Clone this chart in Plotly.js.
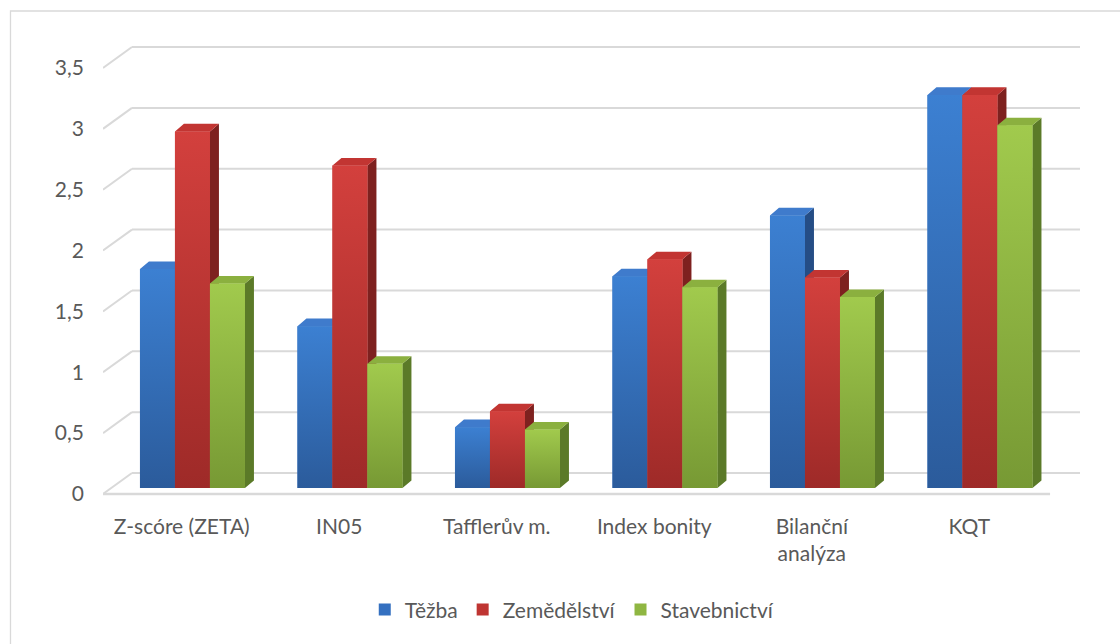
<!DOCTYPE html>
<html>
<head>
<meta charset="utf-8">
<script src="https://cdn.plot.ly/plotly-3.0.1.min.js"></script>
<style>
  html, body { margin: 0; padding: 0; background: #ffffff; }
  #chart { width: 1120px; height: 644px; }
</style>
</head>
<body>
<div id="chart"></div>
<script>
// Category labels (x axis) and legend names
const categories = ['Z-scóre (ZETA)', 'IN05', 'Tafflerův m.', 'Index bonity', 'Bilanční<br>analýza', 'KQT'];
const seriesNames = ['Těžba', 'Zemědělství', 'Stavebnictví'];

// Values per series
const tezba        = [1.80, 1.33, 0.50, 1.74, 2.24, 3.23];
const zemedelstvi  = [2.93, 2.65, 0.63, 1.88, 1.73, 3.23];
const stavebnictvi = [1.68, 1.02, 0.48, 1.65, 1.57, 2.98];

// Value axis ticks
const yTickVals = [0, 0.5, 1, 1.5, 2, 2.5, 3, 3.5];
const yTickText = ['0', '0,5', '1', '1,5', '2', '2,5', '3', '3,5'];

// ---- styling / pseudo-3D geometry (axis units) ----
const FONT = { family: 'Lato, "Open Sans", sans-serif', size: 21, color: '#595959' };
const X_RANGE = [-0.5, 5.703];
const Y_RANGE = [-0.0986, 3.681];
const BAR_W = 0.2222;        // width of one column
const GROUP_SHIFT = 0.068;   // columns sit slightly behind the front edge
const DEPTH_X = 0.057;       // column depth, horizontal part
const DEPTH_Y = 0.062;       // column depth, vertical part
const FRONT_SHIFT = 0.049;   // front edge of the floor below the column plane
const BACK_SHIFT = 0.123;    // back wall above the column plane
const BACK_LEFT = -0.316;    // left end of the back wall
const FRONT_RIGHT = 5.513;   // right end of the floor's front edge
const GRID = '#d9d9d9';

const palette = [
  { bottom: '#2b5b9b', top: '#3c80d2', side: '#254d85', cap: '#3f7bcc', flat: '#3470c0' },
  { bottom: '#9e2a28', top: '#d3403d', side: '#7e211f', cap: '#c23532', flat: '#bf3532' },
  { bottom: '#779934', top: '#a1ca4d', side: '#5b7a28', cap: '#8bb03f', flat: '#8fb642' }
];

const seriesValues = [tezba, zemedelstvi, stavebnictvi];
const axisPairs = [['x', 'y'], ['x2', 'y2'], ['x3', 'y3']];

const traces = [];
const extra = [];

seriesValues.forEach((vals, s) => {
  const [xa, ya] = axisPairs[s];
  const pal = palette[s];
  const offset = GROUP_SHIFT - 1.5 * BAR_W + s * BAR_W;

  // Flat column faces (also provide the legend entry)
  traces.push({
    type: 'bar',
    name: seriesNames[s],
    x: categories.map((_, i) => i),
    y: vals,
    width: BAR_W,
    offset: offset,
    marker: { color: pal.flat, line: { width: 0 } },
    hoverinfo: 'skip',
    xaxis: xa, yaxis: ya
  });

  // Side faces and top caps
  const sx = [], sy = [], cx = [], cy = [];
  vals.forEach((v, i) => {
    const xl = i + offset, xr = xl + BAR_W;
    sx.push(xr, xr + DEPTH_X, xr + DEPTH_X, xr, xr, null);
    sy.push(0, DEPTH_Y, v + DEPTH_Y, v, 0, null);
    cx.push(xl, xr, xr + DEPTH_X, xl + DEPTH_X, xl, null);
    cy.push(v, v, v + DEPTH_Y, v + DEPTH_Y, v, null);
  });
  extra.push({
    type: 'scatter', mode: 'none', x: sx, y: sy, fill: 'toself',
    fillcolor: pal.side, showlegend: false, hoverinfo: 'skip', xaxis: xa, yaxis: ya
  });
  extra.push({
    type: 'scatter', mode: 'none', x: cx, y: cy, fill: 'toself',
    fillcolor: pal.cap, showlegend: false, hoverinfo: 'skip', xaxis: xa, yaxis: ya
  });

  // Shaded front faces, one per column so each has its own gradient
  vals.forEach((v, i) => {
    const xl = i + offset, xr = xl + BAR_W;
    extra.push({
      type: 'scatter', mode: 'none',
      x: [xl, xr, xr, xl, xl], y: [0, 0, v, v, 0],
      fill: 'toself', fillcolor: pal.flat,
      fillgradient: { type: 'vertical', start: 0, stop: v,
                      colorscale: [[0, pal.bottom], [1, pal.top]] },
      showlegend: false, hoverinfo: 'skip', xaxis: xa, yaxis: ya
    });
  });
});

// Wall grid lines, floor edges and the chart frame
const shapes = [];
yTickVals.forEach(v => {
  shapes.push({ type: 'line', xref: 'x', yref: 'y', layer: 'below',
    x0: BACK_LEFT, x1: X_RANGE[1], y0: v + BACK_SHIFT, y1: v + BACK_SHIFT,
    line: { color: GRID, width: 2 } });
  shapes.push({ type: 'line', xref: 'x', yref: 'y', layer: 'below',
    x0: X_RANGE[0], x1: BACK_LEFT, y0: v - FRONT_SHIFT, y1: v + BACK_SHIFT,
    line: { color: GRID, width: 2 } });
});
shapes.push({ type: 'line', xref: 'x', yref: 'y', layer: 'below',
  x0: X_RANGE[0], x1: FRONT_RIGHT, y0: -FRONT_SHIFT, y1: -FRONT_SHIFT,
  line: { color: GRID, width: 2.5 } });
shapes.push({ type: 'rect', xref: 'paper', yref: 'paper', layer: 'below',
  x0: (10.5 - 103) / 977, x1: 1.2, y0: -0.6, y1: (500 - 11) / 460,
  line: { color: GRID, width: 1.3 }, fillcolor: 'rgba(0,0,0,0)' });

const hiddenAxis = (over, anchor, range) => ({
  overlaying: over, anchor: anchor, range: range, visible: false, fixedrange: true
});

const layout = {
  width: 1120, height: 644,
  margin: { l: 103, r: 40, t: 40, b: 144 },
  paper_bgcolor: '#ffffff', plot_bgcolor: 'rgba(0,0,0,0)',
  font: FONT,
  barmode: 'overlay',
  showlegend: true,
  xaxis: {
    range: X_RANGE, tickvals: categories.map((_, i) => i), ticktext: categories,
    showgrid: false, zeroline: false, showline: false, ticks: '',
    tickfont: FONT, ticklabelstandoff: 12, fixedrange: true
  },
  yaxis: {
    range: Y_RANGE, tickvals: yTickVals.map(v => v - FRONT_SHIFT), ticktext: yTickText,
    showgrid: false, zeroline: false, showline: false, ticks: '',
    tickfont: FONT, ticklabelstandoff: 18, fixedrange: true
  },
  xaxis2: hiddenAxis('x', 'y2', X_RANGE),
  yaxis2: hiddenAxis('y', 'x2', Y_RANGE),
  xaxis3: hiddenAxis('x', 'y3', X_RANGE),
  yaxis3: hiddenAxis('y', 'x3', Y_RANGE),
  legend: {
    orientation: 'h', xref: 'container', yref: 'container',
    x: 0.5105, xanchor: 'center', y: 0.053, yanchor: 'middle',
    font: FONT, traceorder: 'normal', itemclick: false, itemdoubleclick: false
  },
  shapes: shapes
};

Plotly.newPlot('chart', traces.concat(extra), layout, { staticPlot: true, displayModeBar: false });
</script>
</body>
</html>
